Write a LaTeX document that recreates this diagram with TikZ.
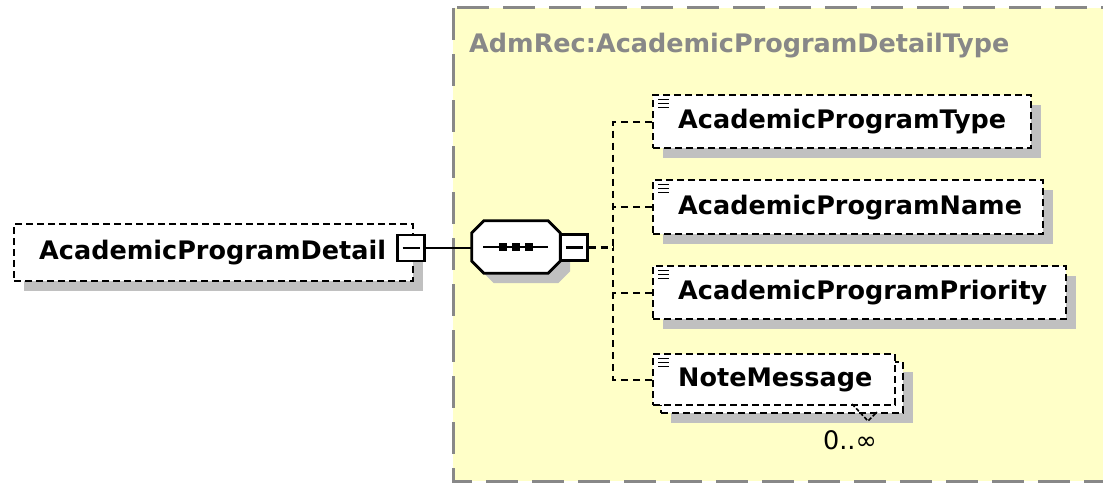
\documentclass[tikz,border=0pt]{standalone}
\usepackage{fontspec}
\setmainfont{DejaVu Sans}
\usetikzlibrary{shadows,positioning}

\definecolor{typefill}{RGB}{255,255,200}
\definecolor{typeline}{RGB}{136,136,136}
\definecolor{shadowgray}{RGB}{192,192,192}
\hyphenpenalty=10000
\exhyphenpenalty=10000

\tikzset{
  dashbox/.style={draw, line width=2.4pt, dash pattern=on 7pt off 4pt},
  elem/.style={dashbox, fill=white, inner xsep=25pt, inner ysep=0pt,
    text width=#1, align=left, anchor=north west,
    font=\fontsize{25.5}{30}\selectfont\bfseries},
  elemshadow/.style={drop shadow={shadow xshift=10pt, shadow yshift=-10pt,
    fill=shadowgray, opacity=1}},
  minusbox/.style={draw, solid, line width=2.8pt, fill=white,
    minimum width=27pt, minimum height=26pt, inner sep=0pt,
    path picture={\draw[line width=2.6pt]
      ([xshift=5pt]path picture bounding box.west) --
      ([xshift=-5pt]path picture bounding box.east);}},
  conn/.style={line width=2.4pt, dash pattern=on 7pt off 5pt},
  solidconn/.style={line width=2.8pt},
  typebox/.style={fill=typefill, draw=typeline, line width=3pt,
    dash pattern=on 32pt off 14pt},
  typelabel/.style={text=typeline, inner sep=0pt,
    font=\fontsize{25.5}{30}\selectfont\bfseries}
}

\begin{document}
\hyphenpenalty=10000
\begin{tikzpicture}[x=1pt, y=-1pt]
\useasboundingbox (0,0) rectangle (1103,487);
\fill[white] (0,0) rectangle (1103,487);

\draw[typebox] (453,8) rectangle (1125,481);
\node[typelabel, anchor=west] (typename) at (469,46) {AdmRec:AcademicProgramDetailType};

\node[elem=349pt, minimum height=57pt, elemshadow] (detail) at (13,223) {AcademicProgramDetail};
\node[minusbox] (lmin) at (411,248) {};

\node[minimum width=88pt, minimum height=52pt, inner sep=0pt] (seq) at (516,247) {};
\draw[solidconn, fill=white, elemshadow]
  ([xshift=12pt]seq.north west) -- ([xshift=-12pt]seq.north east)
  -- ([yshift=-12pt]seq.north east) -- ([yshift=12pt]seq.south east)
  -- ([xshift=-12pt]seq.south east) -- ([xshift=12pt]seq.south west)
  -- ([yshift=12pt]seq.south west) -- ([yshift=-12pt]seq.north west) -- cycle;
\draw[solidconn] ([xshift=-33pt]seq.center) -- ([xshift=32pt]seq.center);
\foreach \dx in {-13,0,13}
  \fill ([xshift=\dx pt]seq.center) +(-4,-4) rectangle +(4,4);
\node[minusbox] (smin) at (574,247.5) {};

\node[elem=328pt, minimum height=53pt, elemshadow] (t1) at (652,94) {AcademicProgramType};
\node[elem=340pt, minimum height=54pt, elemshadow] (t2) at (652,179) {AcademicProgramName};
\node[elem=363pt, minimum height=53pt, elemshadow] (t3) at (652,265) {AcademicProgramPriority};
\node[elem=192pt, minimum height=51pt, elemshadow] (t4b) at (660,361) {\phantom{NoteMessage}};
\node[elem=192pt, minimum height=51pt] (t4) at (652,353) {NoteMessage};

\foreach \n in {t1,t2,t3,t4}
  \foreach \k in {5.5,9.5,13.5}
    \draw[line width=1.3pt] ([xshift=6pt,yshift=-\k pt]\n.north west) -- ++(11,0);

\node[inner sep=0pt, font=\fontsize{25.5}{30}\selectfont] (occ) at (850,440) {0..∞};
\draw[line width=1.6pt, dash pattern=on 4pt off 2pt] (852,404) -- (868,421) -- (877,412);

\coordinate (spine) at (613,247.5);
\draw[solidconn] (lmin.east) -- (lmin.east -| seq.west);
\draw[conn] (smin.east) -- (spine);
\draw[conn] (t1.west) -| (spine);
\draw[conn] (t2.west) -- (t2.west -| spine);
\draw[conn] (t3.west) -- (t3.west -| spine);
\draw[conn] (t4.west) -| (spine);
\end{tikzpicture}
\end{document}
